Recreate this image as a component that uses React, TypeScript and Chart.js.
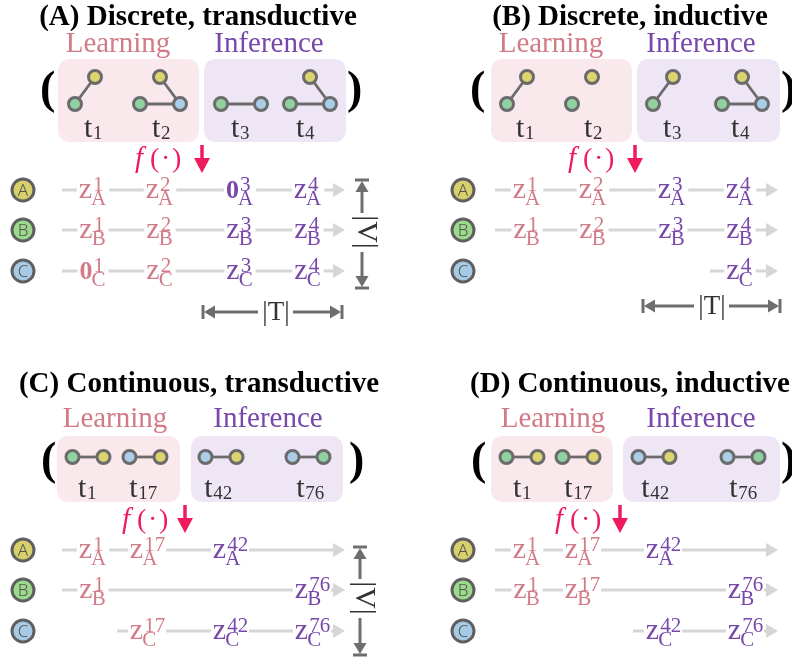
import React, { useEffect, useRef } from "react";
import { Chart, registerables } from "chart.js";
Chart.register(...registerables);

// ---------------- data ----------------
const panelTitles = [
  "(A) Discrete, transductive",
  "(B) Discrete, inductive",
  "(C) Continuous, transductive",
  "(D) Continuous, inductive",
];
const phaseLabels = ["Learning", "Inference"];
const timeLabelsDiscrete = ["1", "2", "3", "4"];
const timeLabelsContinuous = ["1", "17", "42", "76"];
const rowNodes = ["A", "B", "C"];
const learningCount = 2;

// discrete snapshots: nodes and edges per snapshot
const snapshotNodesA = [["A", "B"], ["A", "B", "C"], ["B", "C"], ["A", "B", "C"]];
const snapshotEdgesA = [[["B", "A"]], [["B", "C"], ["A", "C"]], [["B", "C"]], [["B", "C"], ["A", "C"]]];
const snapshotNodesB = [["A", "B"], ["A", "B"], ["A", "B"], ["A", "B", "C"]];
const snapshotEdgesB = [[["B", "A"]], [], [["B", "A"]], [["B", "C"], ["A", "C"]]];
// continuous events (node pairs)
const eventsC = [["B", "A"], ["C", "A"], ["C", "A"], ["C", "B"]];
const eventsD = [["B", "A"], ["B", "A"], ["C", "A"], ["C", "B"]];

// embeddings per row: "z" = embedding, "0" = zero vector, "" = none
const embeddingsA = [["z", "z", "0", "z"], ["z", "z", "z", "z"], ["0", "z", "z", "z"]];
const embeddingsB = [["z", "z", "z", "z"], ["z", "z", "z", "z"], ["", "", "", "z"]];
const embeddingsC = [["z", "z", "z", ""], ["z", "", "", "z"], ["", "z", "z", "z"]];
const embeddingsD = [["z", "z", "z", ""], ["z", "z", "", "z"], ["", "", "z", "z"]];

// ---------------- styles & layout ----------------
const SERIF = "'Liberation Serif', 'Times New Roman', serif";
const NODE_COLORS: Record<string, string> = { A: "#dcd46e", B: "#8fd2a0", C: "#abcde8" };
const ROW_COLORS: Record<string, string> = { A: "#d8d06a", B: "#9bd98b", C: "#a8cbe5" };
const PINK_TEXT = "#d27a86";
const PURPLE_TEXT = "#7747aa";
const PINK_BOX = "#f9e8ec";
const PURPLE_BOX = "#eee6f5";
const EDGE = "#6b6b6b";
const ROWLINE = "#d6d6d6";
const DIM = "#6e6e6e";
const FCOLOR = "#f01a5f";

type Layout = any;
const layouts: Layout[] = [
  {
    titleX: 198, titleY: 25, learnX: 118, infX: 269, phaseY: 52,
    pink: [58, 59, 199, 142], purple: [204, 59, 346, 142], parenL: 40, parenR: 347, parenY: 103,
    graphX: [95, 160, 241, 310], graphTopY: 77, graphBotY: 104, tX: [93, 161, 240, 305], tY: 137,
    fX: 135, fArrowX: 202, fY: 167, fTop: 145,
    rowY: [190, 230, 271], circleX: 23, lineX0: 62, lineTip: 345, colX: [93, 160, 240, 308],
    vArrow: { x: 362, y0: 180, y1: 288, textY: 232 },
    tArrow: { y: 312, x0: 203, x1: 342, textX: 276 },
  },
  {
    titleX: 630, titleY: 25, learnX: 551, infX: 701, phaseY: 52,
    pink: [491, 59, 632, 142], purple: [637, 59, 780, 142], parenL: 470, parenR: 781, parenY: 103,
    graphX: [527, 592, 673, 742], graphTopY: 77, graphBotY: 104, tX: [525, 593, 672, 740], tY: 137,
    fX: 568, fArrowX: 635, fY: 167, fTop: 145,
    rowY: [190, 230, 271], circleX: 463, lineX0: 495, lineTip: 778, colX: [527, 593, 672, 740],
    vArrow: null,
    tArrow: { y: 306, x0: 643, x1: 780, textX: 712 },
  },
  {
    titleX: 199, titleY: 392, learnX: 115, infX: 268, phaseY: 427,
    pink: [57, 436, 180, 502], purple: [191, 436, 343, 502], parenL: 41, parenR: 349, parenY: 474,
    graphX: [88, 145, 221, 308], pairY: 457, tX: [87, 143, 218, 310], tY: 497,
    fX: 122, fArrowX: 185, fY: 528, fTop: 505,
    rowY: [550, 590, 631], circleX: 23, lineX0: 62, lineTip: 345, colX: [93, 147, 230, 312],
    vArrow: { x: 360, y0: 547, y1: 655, textY: 598 },
    tArrow: null,
  },
  {
    titleX: 630, titleY: 392, learnX: 553, infX: 701, phaseY: 427,
    pink: [491, 436, 613, 502], purple: [623, 436, 780, 502], parenL: 471, parenR: 781, parenY: 474,
    graphX: [522, 578, 654, 743], pairY: 457, tX: [522, 578, 655, 743], tY: 497,
    fX: 555, fArrowX: 620, fY: 528, fTop: 505,
    rowY: [550, 590, 631], circleX: 463, lineX0: 495, lineTip: 778, colX: [527, 582, 663, 745],
    vArrow: null,
    tArrow: null,
  },
];

const panels = [
  { title: panelTitles[0], times: timeLabelsDiscrete, kind: "discrete", nodes: snapshotNodesA, edges: snapshotEdgesA, emb: embeddingsA, L: layouts[0] },
  { title: panelTitles[1], times: timeLabelsDiscrete, kind: "discrete", nodes: snapshotNodesB, edges: snapshotEdgesB, emb: embeddingsB, L: layouts[1] },
  { title: panelTitles[2], times: timeLabelsContinuous, kind: "continuous", events: eventsC, emb: embeddingsC, L: layouts[2] },
  { title: panelTitles[3], times: timeLabelsContinuous, kind: "continuous", events: eventsD, emb: embeddingsD, L: layouts[3] },
];

// position of a graph node (in value space)
function nodePos(p: any, i: number, n: string, pairIdx = 0): [number, number] {
  const L = p.L;
  if (p.kind === "discrete") {
    const cx = L.graphX[i];
    if (n === "A") return [cx, L.graphTopY];
    if (n === "B") return [cx - 20, L.graphBotY];
    return [cx + 20, L.graphBotY];
  }
  return [L.graphX[i] + (pairIdx === 0 ? -15.5 : 15.5), L.pairY];
}

function roundRect(ctx: CanvasRenderingContext2D, x0: number, y0: number, x1: number, y1: number, r: number) {
  ctx.beginPath();
  ctx.moveTo(x0 + r, y0);
  ctx.lineTo(x1 - r, y0);
  ctx.quadraticCurveTo(x1, y0, x1, y0 + r);
  ctx.lineTo(x1, y1 - r);
  ctx.quadraticCurveTo(x1, y1, x1 - r, y1);
  ctx.lineTo(x0 + r, y1);
  ctx.quadraticCurveTo(x0, y1, x0, y1 - r);
  ctx.lineTo(x0, y0 + r);
  ctx.quadraticCurveTo(x0, y0, x0 + r, y0);
  ctx.closePath();
}

function tri(ctx: CanvasRenderingContext2D, pts: number[][], color: string) {
  ctx.fillStyle = color;
  ctx.beginPath();
  ctx.moveTo(pts[0][0], pts[0][1]);
  ctx.lineTo(pts[1][0], pts[1][1]);
  ctx.lineTo(pts[2][0], pts[2][1]);
  ctx.closePath();
  ctx.fill();
}

function seg(ctx: CanvasRenderingContext2D, x0: number, y0: number, x1: number, y1: number, color: string, w: number) {
  ctx.strokeStyle = color;
  ctx.lineWidth = w;
  ctx.beginPath();
  ctx.moveTo(x0, y0);
  ctx.lineTo(x1, y1);
  ctx.stroke();
}

function embWidth(ctx: CanvasRenderingContext2D, kind: string, node: string, time: string) {
  ctx.font = kind === "0" ? `bold 26px ${SERIF}` : `30px ${SERIF}`;
  const wm = ctx.measureText(kind === "0" ? "0" : "z").width;
  ctx.font = `21px ${SERIF}`;
  const ws = Math.max(ctx.measureText(node).width, ctx.measureText(time).width);
  return { wm, ws, total: wm + ws };
}

const diagramPlugin = {
  id: "diagram",
  beforeDatasetsDraw(chart: any) {
    const ctx: CanvasRenderingContext2D = chart.ctx;
    const X = (v: number) => chart.scales.x.getPixelForValue(v);
    const Y = (v: number) => chart.scales.y.getPixelForValue(v);
    ctx.save();
    ctx.lineCap = "butt";
    panels.forEach((p: any) => {
      const L = p.L;
      // boxes
      ctx.fillStyle = PINK_BOX;
      roundRect(ctx, X(L.pink[0]), Y(L.pink[1]), X(L.pink[2]), Y(L.pink[3]), 13);
      ctx.fill();
      ctx.fillStyle = PURPLE_BOX;
      roundRect(ctx, X(L.purple[0]), Y(L.purple[1]), X(L.purple[2]), Y(L.purple[3]), 13);
      ctx.fill();
      // edges
      if (p.kind === "discrete") {
        p.edges.forEach((es: string[][], i: number) => {
          es.forEach(([u, v]) => {
            const a = nodePos(p, i, u), b = nodePos(p, i, v);
            seg(ctx, X(a[0]), Y(a[1]), X(b[0]), Y(b[1]), EDGE, 2.8);
          });
        });
      } else {
        p.events.forEach((ev: string[], i: number) => {
          const a = nodePos(p, i, ev[0], 0), b = nodePos(p, i, ev[1], 1);
          seg(ctx, X(a[0]), Y(a[1]), X(b[0]), Y(b[1]), EDGE, 2.8);
        });
      }
      // row timelines
      p.emb.forEach((row: string[], r: number) => {
        const first = row.findIndex((c) => c !== "");
        const x0 = first <= 0 ? L.lineX0 : L.colX[first] - 30;
        const y = Y(L.rowY[r]);
        seg(ctx, X(x0), y, X(L.lineTip) - 11, y, ROWLINE, 3);
        tri(ctx, [[X(L.lineTip), y], [X(L.lineTip) - 12, y - 7], [X(L.lineTip) - 12, y + 7]], ROWLINE);
      });
    });
    ctx.restore();
  },
  afterDatasetsDraw(chart: any) {
    const ctx: CanvasRenderingContext2D = chart.ctx;
    const X = (v: number) => chart.scales.x.getPixelForValue(v);
    const Y = (v: number) => chart.scales.y.getPixelForValue(v);
    ctx.save();
    ctx.textBaseline = "alphabetic";
    panels.forEach((p: any) => {
      const L = p.L;
      // title
      ctx.fillStyle = "#000";
      ctx.font = `bold 29px ${SERIF}`;
      ctx.textAlign = "center";
      ctx.fillText(p.title, X(L.titleX), Y(L.titleY));
      // phase labels
      ctx.font = `29px ${SERIF}`;
      ctx.fillStyle = PINK_TEXT;
      ctx.fillText(phaseLabels[0], X(L.learnX), Y(L.phaseY));
      ctx.fillStyle = PURPLE_TEXT;
      ctx.fillText(phaseLabels[1], X(L.infX), Y(L.phaseY));
      // parentheses
      ctx.fillStyle = "#000";
      ctx.font = `bold 46px ${SERIF}`;
      ctx.textAlign = "left";
      ctx.fillText("(", X(L.parenL), Y(L.parenY));
      ctx.fillText(")", X(L.parenR), Y(L.parenY));
      // t labels
      p.times.forEach((t: string, i: number) => {
        ctx.font = `30px ${SERIF}`;
        const wt = ctx.measureText("t").width;
        ctx.font = `19px ${SERIF}`;
        const ws = ctx.measureText(t).width;
        const x0 = X(L.tX[i]) - (wt + ws) / 2;
        ctx.fillStyle = "#333";
        ctx.font = `30px ${SERIF}`;
        ctx.fillText("t", x0, Y(L.tY));
        ctx.font = `19px ${SERIF}`;
        ctx.fillText(t, x0 + wt + 0.5, Y(L.tY) + 2);
      });
      // f(.) and arrow
      ctx.fillStyle = FCOLOR;
      ctx.font = `italic 29px ${SERIF}`;
      const fx = X(L.fX), fy = Y(L.fY);
      ctx.fillText("f", fx, fy);
      ctx.font = `28px ${SERIF}`;
      ctx.fillText("(", fx + 15, fy);
      ctx.fillText("\u00b7", fx + 26, fy);
      ctx.fillText(")", fx + 37, fy);
      const ax = X(L.fArrowX), at = Y(L.fTop);
      seg(ctx, ax, at, ax, at + 16, FCOLOR, 3.5);
      tri(ctx, [[ax - 8, at + 13], [ax + 8, at + 13], [ax, at + 28]], FCOLOR);
      // row letters
      rowNodes.forEach((n, r) => {
        ctx.fillStyle = "#555";
        ctx.font = `300 17px 'Noto Sans', sans-serif`;
        ctx.textAlign = "center";
        ctx.textBaseline = "middle";
        ctx.fillText(n, X(L.circleX), Y(L.rowY[r]) + 1);
        ctx.textBaseline = "alphabetic";
      });
      // embeddings
      p.emb.forEach((row: string[], r: number) => {
        row.forEach((c: string, i: number) => {
          if (!c) return;
          const node = rowNodes[r];
          const time = p.times[i];
          const { wm, total } = embWidth(ctx, c, node, time);
          const cx = X(L.colX[i]);
          const cy = Y(L.rowY[r]);
          const x0 = cx - total / 2;
          ctx.fillStyle = "#fff";
          ctx.fillRect(x0 - 2, cy - 3, total + 4, 6);
          const col = i < learningCount ? PINK_TEXT : PURPLE_TEXT;
          ctx.fillStyle = col;
          ctx.textAlign = "left";
          if (c === "0") {
            ctx.font = `bold 26px ${SERIF}`;
            ctx.fillText("0", x0, cy + 8);
          } else {
            ctx.font = `30px ${SERIF}`;
            ctx.fillText("z", x0, cy + 8);
          }
          ctx.font = `21px ${SERIF}`;
          ctx.fillText(time, x0 + wm + 1, cy + 1);
          ctx.fillText(node, x0 + wm - 1, cy + 15);
        });
      });
      // |V| arrow
      if (L.vArrow) {
        const v = L.vArrow;
        const x = X(v.x), y0 = Y(v.y0), y1 = Y(v.y1), ty = Y(v.textY);
        seg(ctx, x - 7, y0, x + 7, y0, DIM, 3);
        tri(ctx, [[x, y0 + 1], [x - 6.5, y0 + 12], [x + 6.5, y0 + 12]], DIM);
        seg(ctx, x, y0 + 10, x, ty - 19, DIM, 3);
        seg(ctx, x - 7, y1, x + 7, y1, DIM, 3);
        tri(ctx, [[x, y1 - 1], [x - 6.5, y1 - 12], [x + 6.5, y1 - 12]], DIM);
        seg(ctx, x, ty + 20, x, y1 - 10, DIM, 3);
        ctx.save();
        ctx.translate(x, ty);
        ctx.rotate(Math.PI / 2);
        ctx.fillStyle = "#333";
        ctx.font = `30px ${SERIF}`;
        ctx.textAlign = "center";
        ctx.fillText("|V|", 0, 4);
        ctx.restore();
      }
      // |T| arrow
      if (L.tArrow) {
        const t = L.tArrow;
        const y = Y(t.y), x0 = X(t.x0), x1 = X(t.x1), tx = X(t.textX);
        seg(ctx, x0, y - 7, x0, y + 7, DIM, 3);
        tri(ctx, [[x0 + 1, y], [x0 + 12, y - 6.5], [x0 + 12, y + 6.5]], DIM);
        seg(ctx, x0 + 10, y, tx - 18, y, DIM, 3);
        seg(ctx, x1, y - 7, x1, y + 7, DIM, 3);
        tri(ctx, [[x1 - 1, y], [x1 - 12, y - 6.5], [x1 - 12, y + 6.5]], DIM);
        seg(ctx, tx + 17, y, x1 - 10, y, DIM, 3);
        ctx.fillStyle = "#333";
        ctx.font = `27px ${SERIF}`;
        ctx.textAlign = "center";
        ctx.fillText("|T|", tx, y + 8);
      }
    });
    ctx.restore();
  },
};

export default function App() {
  const ref = useRef<HTMLCanvasElement>(null);
  useEffect(() => {
    document.body.style.margin = "0";
    const canvas = ref.current!;
    // graph node points
    const gx: { x: number; y: number }[] = [];
    const gc: string[] = [];
    panels.forEach((p: any) => {
      if (p.kind === "discrete") {
        p.nodes.forEach((ns: string[], i: number) => {
          ns.forEach((n) => {
            const [x, y] = nodePos(p, i, n);
            gx.push({ x, y });
            gc.push(NODE_COLORS[n]);
          });
        });
      } else {
        p.events.forEach((ev: string[], i: number) => {
          ev.forEach((n, k) => {
            const [x, y] = nodePos(p, i, n, k);
            gx.push({ x, y });
            gc.push(NODE_COLORS[n]);
          });
        });
      }
    });
    const rx: { x: number; y: number }[] = [];
    const rc: string[] = [];
    panels.forEach((p: any) => {
      rowNodes.forEach((n, r) => {
        rx.push({ x: p.L.circleX, y: p.L.rowY[r] });
        rc.push(ROW_COLORS[n]);
      });
    });
    const chart = new Chart(canvas, {
      type: "scatter",
      data: {
        datasets: [
          {
            data: gx,
            pointBackgroundColor: gc,
            pointBorderColor: EDGE,
            pointBorderWidth: 3,
            pointRadius: 6.5,
            pointHoverRadius: 6.5,
            clip: false,
          } as any,
          {
            data: rx,
            pointBackgroundColor: rc,
            pointBorderColor: "#5f5f5f",
            pointBorderWidth: 3,
            pointRadius: 11,
            pointHoverRadius: 11,
            clip: false,
          } as any,
        ],
      },
      options: {
        animation: false,
        responsive: false,
        devicePixelRatio: 1,
        events: [],
        layout: { padding: 0, autoPadding: false },
        plugins: { legend: { display: false }, tooltip: { enabled: false } },
        scales: {
          x: { type: "linear", min: 0, max: 792, display: false },
          y: { type: "linear", min: 0, max: 661, reverse: true, display: false },
        },
      },
      plugins: [diagramPlugin],
    });
    return () => chart.destroy();
  }, []);
  return <canvas ref={ref} width={792} height={661} style={{ display: "block" }} />;
}
